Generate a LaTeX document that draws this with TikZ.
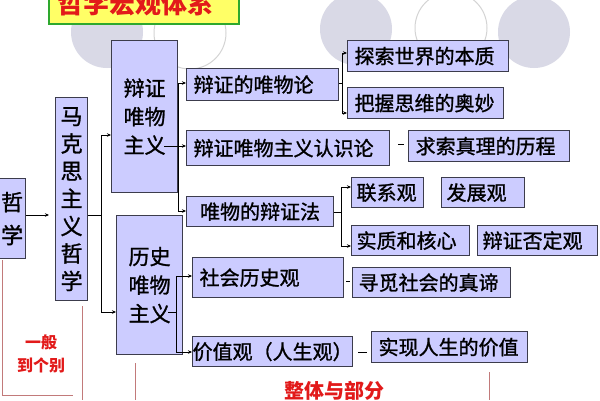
\documentclass[tikz,border=0pt]{standalone}
\usepackage{fontspec}
\setmainfont{Noto Sans CJK SC}
\newfontfamily\boxfont{Noto Sans CJK SC}[FakeBold=1.2]
\usetikzlibrary{arrows.meta}
\definecolor{boxfill}{HTML}{CCCCFF}
\definecolor{boxline}{HTML}{3C3C4C}
\definecolor{circfill}{HTML}{D9D9E6}
\definecolor{circline}{HTML}{D4D4D4}
\definecolor{titlefill}{HTML}{FFFF66}
\definecolor{titleline}{HTML}{2EA82E}
\definecolor{redtext}{HTML}{E21A1A}
\definecolor{guide}{HTML}{C27A7A}
\tikzset{
  box/.style={draw=boxline, fill=boxfill, line width=1.2pt, inner xsep=7pt, inner ysep=0pt,
    font=\boxfont\fontsize{20}{24}\selectfont, align=left, anchor=north west},
  vbox/.style={draw=boxline, fill=boxfill, line width=1.2pt, inner sep=0pt, align=center, anchor=north west},
  conn/.style={draw=black, line width=0.8pt},
  arr/.style={conn, -{Stealth[length=4pt,width=3.5pt]}},
  redlabel/.style={text=redtext, font=\bfseries\fontsize{16}{23}\selectfont, align=center},
  guideline/.style={draw=guide, line width=1pt},
  bgcircle/.style={fill=circfill, draw=none},
  ocircle/.style={fill=white, draw=circline, line width=1pt}
}
\begin{document}
\begin{tikzpicture}[x=1pt,y=-1pt]
\useasboundingbox (0,0) rectangle (600,400);
\fill[white] (0,0) rectangle (600,400);
% background circles
\fill[bgcircle] (107,32) circle (36);
\filldraw[ocircle] (190,33) circle (36);
\fill[bgcircle] (356,29) circle (36);
\filldraw[ocircle] (451,28) circle (36);
\fill[bgcircle] (534,32) circle (36);
% title
\filldraw[fill=titlefill, draw=titleline, line width=2pt] (49,-6) rectangle (239,24);
\node[text=redtext, font=\bfseries\fontsize{26}{30}\selectfont] (title) at (135.5,3.5) {哲学宏观体系};
% main vertical boxes
\node[vbox, minimum width=27pt, minimum height=80pt, font=\boxfont\fontsize{22}{33}\selectfont] (zx) at (-2,178) {哲\\学};
\node[vbox, minimum width=32pt, minimum height=203pt, font=\boxfont\fontsize{22}{27.5}\selectfont] (mk) at (55,97) {马\\克\\思\\主\\义\\哲\\学};
\node[vbox, minimum width=66pt, minimum height=152pt, font=\boxfont\fontsize{21}{28.5}\selectfont] (bz) at (111,40) {辩证\\唯物\\主义};
\node[vbox, minimum width=66pt, minimum height=139pt, font=\boxfont\fontsize{21}{28.5}\selectfont] (ls) at (116,215) {历史\\唯物\\主义};
% second level
\node[box, minimum height=32pt, text width=138pt] (a1) at (186,68) {辩证的唯物论};
\node[box, minimum height=35pt, text width=189pt] (a2) at (186,130) {辩证唯物主义认识论};
\node[box, minimum height=30pt, text width=133pt, align=center] (a3) at (186,196) {唯物的辩证法};
\node[box, minimum height=40pt, text width=137pt] (d1) at (192,257) {社会历史观};
\node[box, minimum height=30pt, text width=160pt, inner xsep=0pt] (e1) at (192,336) {价值观（人生观）};
% third level
\node[box, minimum height=31pt, text width=147pt] (b1) at (347,40) {探索世界的本质};
\node[box, minimum height=31pt, text width=142pt] (b2) at (347,87) {把握思维的奥妙};
\node[box, minimum height=31pt, text width=147pt] (b3) at (408,130) {求索真理的历程};
\node[box, minimum height=30pt, text width=62pt, inner xsep=5pt] (c1) at (351,177) {联系观};
\node[box, minimum height=30pt, text width=73pt, inner xsep=5pt] (c2) at (441,177) {发展观};
\node[box, minimum height=30pt, text width=108pt, inner xsep=5pt] (c3) at (351,225) {实质和核心};
\node[box, minimum height=30pt, text width=110pt, inner xsep=5pt] (c4) at (477,225) {辩证否定观};
\node[box, minimum height=30pt, text width=146pt, inner xsep=6pt] (d2) at (352,267) {寻觅社会的真谛};
\node[box, minimum height=31pt, text width=142pt] (e2) at (371,331) {实现人生的价值};
% connectors: zhexue -> makesi
\draw[arr, shorten >=6pt] (zx.east |- 0,215) coordinate (zxo) -- (zxo -| mk.west);
% makesi -> two branches
\coordinate (j1) at (101,215);
\coordinate (j1t) at (101,135);
\coordinate (j1b) at (101,312);
\draw[conn] (mk.east |- j1) -- (j1);
\draw[conn] (j1t) -- (j1b);
\draw[arr] (j1t) -- (j1t -| bz.west);
\draw[arr] (j1b) -- (j1b -| ls.west);
% bianzheng weiwu zhuyi bracket
\coordinate (j2t) at (178,83);
\coordinate (j2m) at (178,146);
\coordinate (j2b) at (178,211);
\coordinate (bzo) at (164,146);
\draw[conn] (j2t) -- (j2b);
\draw[conn] (bzo) -- (j2m);
\draw[arr] (j2t) -- (j2t -| a1.west);
\draw[arr] (j2m) -- (j2m -| a2.west);
\draw[arr] (j2b) -- (j2b -| a3.west);
% a1 bracket
\coordinate (j3t) at (342,53);
\coordinate (j3m) at (342,83);
\coordinate (j3b) at (342,113);
\draw[conn] (j3m -| a1.east) -- (j3m);
\draw[conn] (j3t) -- (j3b);
\draw[arr] (j3t) -- (j3t -| b1.west);
\draw[arr] (j3b) -- (j3b -| b2.west);
% a2 -> b3
\draw[conn, shorten <=8pt, shorten >=4pt] (a2.east |- 0,144) coordinate (a2o) -- (a2o -| b3.west);
% a3 bracket
\coordinate (j4t) at (341,187);
\coordinate (j4m) at (341,212);
\coordinate (j4b) at (341,246);
\draw[conn] (j4m -| a3.east) -- (j4m);
\draw[conn] (j4t) -- (j4b);
\draw[arr] (j4t) -- (j4t -| c1.west);
\draw[arr] (j4b) -- (j4b -| c3.west);
% lishi weiwu zhuyi bracket
\coordinate (j5t) at (176,276);
\coordinate (j5m) at (176,312);
\coordinate (j5b) at (176,352);
\coordinate (lso) at (168,312);
\draw[conn] (j5t) -- (j5b);
\draw[conn] (lso) -- (j5m);
\draw[arr] (j5t) -- (j5t -| d1.west);
\draw[arr] (j5b) -- (j5b -| e1.west);
% d1 -> d2, e1 -> e2
\draw[conn, shorten <=2pt, shorten >=2pt] (d1.east |- 0,281) coordinate (d1o) -- (d1o -| d2.west);
\draw[conn, shorten <=5pt, shorten >=4pt] (e1.east |- 0,352) coordinate (e1o) -- (e1o -| e2.west);
% red guide lines and labels
\draw[guideline] (2,260) -- (2,395) -- (73,395);
\draw[guideline] (82,306) -- (82,400);
\draw[guideline] (135,363) -- (135,400);
\draw[guideline] (489,372) -- (489,400);
\node[redlabel] (yb) at (41,354) {一般\\到个别};
\node[text=redtext, font=\bfseries\fontsize{20}{24}\selectfont] (zt) at (334,391) {整体与部分};
\end{tikzpicture}
\end{document}
